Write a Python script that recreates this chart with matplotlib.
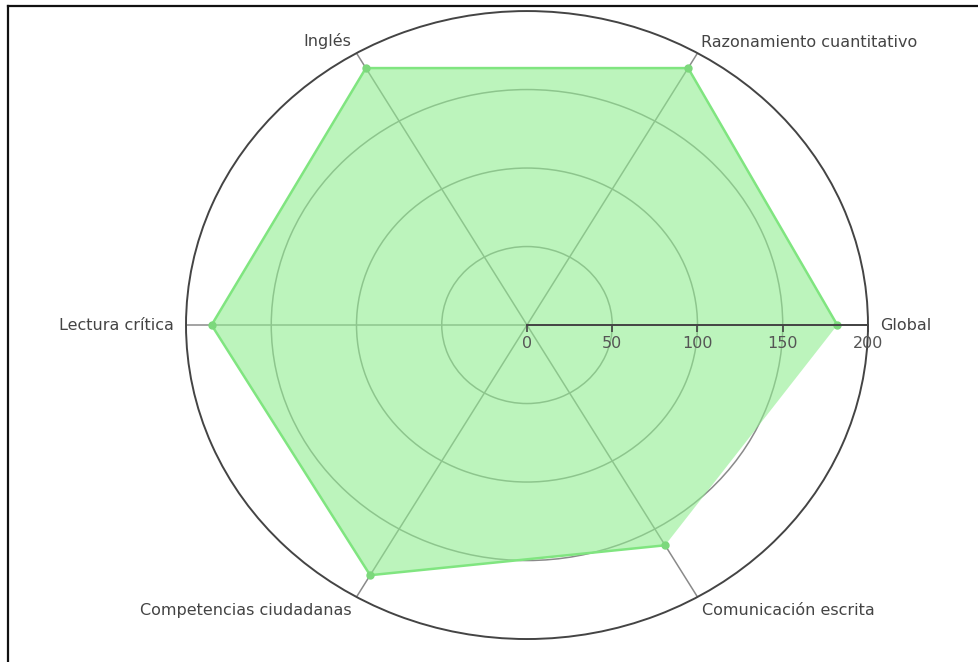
import numpy as np
import matplotlib.pyplot as plt
from matplotlib.lines import Line2D

# datos
categorias = ["Global", "Razonamiento cuantitativo", "Inglés", "Lectura crítica",
              "Competencias ciudadanas", "Comunicación escrita"]
puntajes = [182, 189, 189, 185, 184, 162]
ticks_r = [0, 50, 100, 150, 200]

angulos = np.deg2rad(np.arange(len(categorias)) * 60)

fig = plt.figure(figsize=(9.79, 6.62), dpi=100)
ax = fig.add_axes([0.19, 0.0347, 0.6966, 0.9486], projection="polar")
ax.set_aspect("auto")
ax.set_axisbelow(True)

ax.set_ylim(0, 200)
ax.set_yticks([50, 100, 150])
ax.set_yticklabels([])
ax.set_xticks(angulos)
ax.set_xticklabels([])
ax.grid(True, color="#8a8a8a", linewidth=1.1)
ax.tick_params(axis="x", direction="out", length=6, width=1, color="#777777")
ax.spines["polar"].set_color("#444444")
ax.spines["polar"].set_linewidth(1.4)

# relleno cerrado, línea abierta (como plotly fill toself)
ax.fill(angulos, puntajes, color="#90ee90", alpha=0.6, linewidth=0, zorder=1)
ax.plot(angulos, puntajes, color="#80e580", linewidth=1.8, zorder=2)
ax.plot(angulos, puntajes, "o", color="#7cd87c", markersize=5, zorder=3)

# eje radial sobre el ángulo 0
ax.plot([0, 0], [0, 200], color="#444444", linewidth=1.4, zorder=4, clip_on=False)
ax.plot(np.zeros(len(ticks_r)), ticks_r, ls="none", marker=3, markersize=5,
        color="#444444", markeredgewidth=1.2, zorder=4, clip_on=False)
for r in ticks_r:
    ax.annotate(str(r), xy=(0, r), xytext=(0, -13), textcoords="offset points",
                ha="center", va="center", fontsize=11.5, color="#555555",
                annotation_clip=False)

# etiquetas angulares
ajustes = [((9, 0), "left"), ((2.2, 8), "left"), ((-3.6, 8.6), "right"),
           ((-8.6, 0), "right"), ((-3.6, -10), "right"), ((2.9, -10), "left")]
for ang, nombre, (off, ha) in zip(angulos, categorias, ajustes):
    ax.annotate(nombre, xy=(ang, 200), xytext=off, textcoords="offset points",
                ha=ha, va="center", fontsize=11.5, color="#444444",
                annotation_clip=False)

# borde de la captura (arriba e izquierda)
fig.add_artist(Line2D([8.5 / 979, 8.5 / 979], [0, 1 - 5.5 / 662], color="#111111", linewidth=1.6))
fig.add_artist(Line2D([8 / 979, 1], [1 - 5.5 / 662, 1 - 5.5 / 662], color="#111111", linewidth=1.6))

fig.savefig("out.png", dpi=100)
